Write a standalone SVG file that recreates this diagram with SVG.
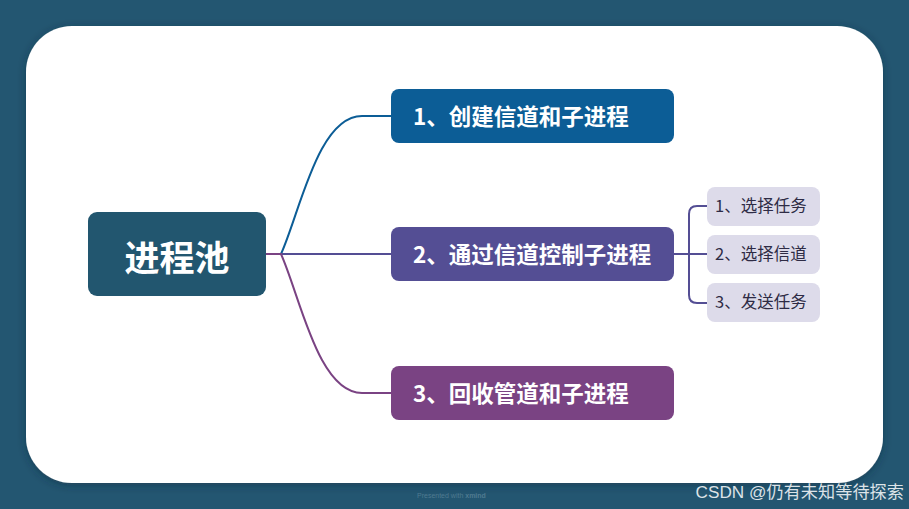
<svg xmlns="http://www.w3.org/2000/svg" width="909" height="509" viewBox="0 0 909 509">
<defs>
<style>
.t{font-family:"Noto Sans CJK SC","Noto Sans",sans-serif;font-weight:700;fill:#fff}
.s{font-family:"Noto Sans CJK SC","Noto Sans",sans-serif;font-size:16.5px;fill:#2e2b45}
.sub{fill:#dddbea}
.c{fill:none;stroke-width:2;stroke-linecap:round}
</style>
<filter id="sh" x="-10%" y="-10%" width="120%" height="120%"><feDropShadow dx="0" dy="2" stdDeviation="4" flood-color="#0d2a3a" flood-opacity="0.5"/></filter>
</defs>
<rect width="909" height="509" fill="#235671"/>
<rect x="26" y="26" width="857" height="457" rx="46" fill="#fff" filter="url(#sh)"/>
<g id="connectors">
<path class="c" stroke="#7a4383" d="M266 254 H281"/>
<path class="c" stroke="#0c5d96" d="M281 254 C300 212 318 116 362 116 H391"/>
<path class="c" stroke="#544e94" d="M281 254 H391"/>
<path class="c" stroke="#7a4383" d="M281 254 C300 296 318 393 362 393 H391"/>
<path class="c" stroke="#544e94" d="M674 254 H707 M707 206 H697 Q689 206 689 214 V295 Q689 303 697 303 H707"/>
</g>
<g id="root">
<rect x="88" y="212" width="178" height="84" rx="9" fill="#22566f"/>
<text class="t" x="177" y="271" font-size="35" text-anchor="middle">进程池</text>
</g>
<g id="n1">
<rect x="391" y="89" width="283" height="54" rx="8" fill="#0c5d96"/>
<text class="t" x="413" y="124.5" font-size="22.5">1、创建信道和子进程</text>
</g>
<g id="n2">
<rect x="391" y="227" width="283" height="54" rx="8" fill="#544e94"/>
<text class="t" x="413" y="262.5" font-size="22.5">2、通过信道控制子进程</text>
</g>
<g id="n3">
<rect x="391" y="366" width="283" height="54" rx="8" fill="#7a4383"/>
<text class="t" x="413" y="401.5" font-size="22.5">3、回收管道和子进程</text>
</g>
<g id="s1">
<rect class="sub" x="707" y="187" width="113" height="39" rx="8"/>
<text class="s" x="715" y="212">1、选择任务</text>
</g>
<g id="s2">
<rect class="sub" x="707" y="235" width="113" height="39" rx="8"/>
<text class="s" x="715" y="260">2、选择信道</text>
</g>
<g id="s3">
<rect class="sub" x="707" y="283" width="113" height="39" rx="8"/>
<text class="s" x="715" y="308">3、发送任务</text>
</g>
<text x="417" y="498" font-family="Liberation Sans,sans-serif" font-size="7" fill="#4f7a90">Presented with <tspan font-weight="700">xmind</tspan></text>
<text x="904" y="498" text-anchor="end" font-family="Liberation Sans,'Noto Sans CJK SC',sans-serif" font-size="17.2" fill="#ffffff" fill-opacity="0.85">CSDN @仍有未知等待探索</text>
</svg>
